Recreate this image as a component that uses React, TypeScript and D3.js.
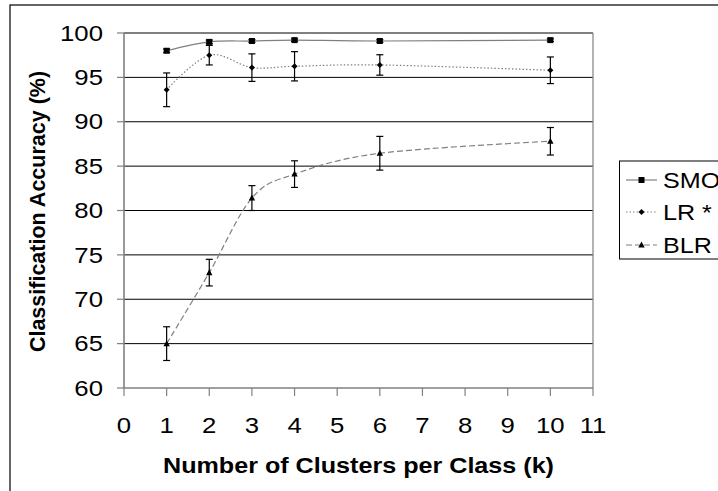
import React from "react";
import * as d3 from "d3";

// Clusters per class (k) at which each model was evaluated
const clusters = [1, 2, 3, 4, 6, 10];

// Mean classification accuracy (%) per model
const smoAccuracy = [98.0, 99.0, 99.1, 99.2, 99.1, 99.2];
const lrAccuracy = [93.6, 97.5, 96.1, 96.25, 96.4, 95.8];
const blrAccuracy = [65.0, 73.0, 81.4, 84.1, 86.45, 87.8];

// Error-bar half widths (%)
const smoError = [0.2, 0.2, 0.15, 0.15, 0.15, 0.15];
const lrError = [1.9, 1.1, 1.55, 1.65, 1.15, 1.5];
const blrError = [1.9, 1.5, 1.4, 1.5, 1.9, 1.55];

const seriesNames = ["SMO", "LR *", "BLR"];
const xTicks = [0, 1, 2, 3, 4, 5, 6, 7, 8, 9, 10, 11];
const yTicks = [60, 65, 70, 75, 80, 85, 90, 95, 100];

const W = 718;
const H = 491;
const plot = { left: 124, right: 593, top: 33, bottom: 388 };
const FONT = "Arial, 'Liberation Sans', Helvetica, sans-serif";
const STRETCH = 1.17;
const FS = 21.5;

type Series = {
  name: string;
  values: number[];
  errors: number[];
  dash: string;
  marker: "square" | "diamond" | "triangle";
};

const series: Series[] = [
  { name: seriesNames[0], values: smoAccuracy, errors: smoError, dash: "none", marker: "square" },
  { name: seriesNames[1], values: lrAccuracy, errors: lrError, dash: "1.5,2", marker: "diamond" },
  { name: seriesNames[2], values: blrAccuracy, errors: blrError, dash: "6,3", marker: "triangle" },
];

function Marker({ kind, x, y }: { kind: Series["marker"]; x: number; y: number }) {
  if (kind === "square") return <rect x={x - 3} y={y - 3} width={6} height={6} fill="#000" />;
  if (kind === "diamond")
    return <path d={`M${x},${y - 3}L${x + 3},${y}L${x},${y + 3}L${x - 3},${y}Z`} fill="#000" />;
  return <path d={`M${x},${y - 3.5}L${x + 3.2},${y + 2.5}L${x - 3.2},${y + 2.5}Z`} fill="#000" />;
}

function SText({
  x, y, anchor = "start", bold = false, size = FS, children,
}: { x: number; y: number; anchor?: string; bold?: boolean; size?: number; children: React.ReactNode }) {
  return (
    <text
      transform={`translate(${x},${y}) scale(${STRETCH},1)`}
      textAnchor={anchor as any}
      fontFamily={FONT}
      fontSize={size}
      fontWeight={bold ? "bold" : "normal"}
      fill="#000"
    >
      {children}
    </text>
  );
}

export default function App() {
  const x = d3.scaleLinear().domain([0, 11]).range([plot.left, plot.right]);
  const y = d3.scaleLinear().domain([60, 100]).range([plot.bottom, plot.top]);
  const line = d3
    .line<number>()
    .x((_, i) => x(clusters[i]))
    .y((v) => y(v))
    .curve(d3.curveCardinal.tension(0));

  const legendRows = [180, 212, 245];

  return (
    <svg
      width={W}
      height={H}
      style={{ position: "absolute", left: 0, top: 0, background: "#fff" }}
    >
      <rect x={0} y={0} width={W} height={H} fill="#fff" />
      {/* outer chart frame */}
      <rect x={10} y={5} width={W + 10} height={H + 10} fill="none" stroke="#000" strokeWidth={1.2} />

      {/* horizontal gridlines */}
      {yTicks.slice(1).map((t) => (
        <line key={t} x1={plot.left} x2={plot.right} y1={y(t)} y2={y(t)} stroke="#000" strokeWidth={1} />
      ))}
      {/* plot area right border */}
      <line x1={plot.right} x2={plot.right} y1={plot.top} y2={plot.bottom} stroke="#808080" strokeWidth={1.2} />

      {/* axes */}
      <line x1={plot.left} x2={plot.left} y1={plot.top} y2={plot.bottom} stroke="#808080" strokeWidth={1.6} />
      <line x1={plot.left} x2={plot.right} y1={plot.bottom} y2={plot.bottom} stroke="#808080" strokeWidth={1.6} />
      {yTicks.map((t) => (
        <g key={t}>
          <line x1={plot.left - 7} x2={plot.left} y1={y(t)} y2={y(t)} stroke="#808080" strokeWidth={1.2} />
          <SText x={plot.left - 21} y={y(t) + 7.7} anchor="end" size={22}>{t}</SText>
        </g>
      ))}
      {xTicks.map((t) => (
        <g key={t}>
          <line x1={x(t)} x2={x(t)} y1={plot.bottom} y2={plot.bottom + 8} stroke="#808080" strokeWidth={1.2} />
          <SText x={x(t)} y={433} anchor="middle" size={22}>{t}</SText>
        </g>
      ))}

      {/* axis titles */}
      <SText x={(plot.left + plot.right) / 2} y={473} anchor="middle" bold>
        Number of Clusters per Class (k)
      </SText>
      <text
        transform={`translate(45,${(plot.top + plot.bottom) / 2 + 1}) rotate(-90)`}
        textAnchor="middle"
        fontFamily={FONT}
        fontSize={FS}
        fontWeight="bold"
      >
        Classification Accuracy (%)
      </text>

      {/* series lines */}
      {series.map((s) => (
        <path
          key={s.name}
          d={line(s.values) || ""}
          fill="none"
          stroke="#808080"
          strokeWidth={1.2}
          strokeDasharray={s.dash}
        />
      ))}

      {/* error bars */}
      {series.map((s) =>
        s.values.map((v, i) => {
          const cx = x(clusters[i]);
          const y1 = y(v + s.errors[i]);
          const y2 = y(v - s.errors[i]);
          return (
            <g key={`${s.name}-${i}`} stroke="#000" strokeWidth={1.2}>
              <line x1={cx} x2={cx} y1={y1} y2={y2} />
              <line x1={cx - 3.5} x2={cx + 3.5} y1={y1} y2={y1} />
              <line x1={cx - 3.5} x2={cx + 3.5} y1={y2} y2={y2} />
            </g>
          );
        })
      )}

      {/* markers */}
      {series.map((s) =>
        s.values.map((v, i) => (
          <Marker key={`${s.name}-m${i}`} kind={s.marker} x={x(clusters[i])} y={y(v)} />
        ))
      )}

      {/* legend */}
      <rect x={619.5} y={161} width={120} height={98} fill="#fff" stroke="#000" strokeWidth={1} />
      {series.map((s, i) => (
        <g key={`leg-${s.name}`}>
          <line x1={626} x2={657} y1={legendRows[i]} y2={legendRows[i]} stroke="#808080" strokeWidth={1.2} strokeDasharray={s.dash} />
          <Marker kind={s.marker} x={641.5} y={legendRows[i]} />
          <SText x={663} y={legendRows[i] + 8} size={21.5}>{s.name}</SText>
        </g>
      ))}
    </svg>
  );
}
